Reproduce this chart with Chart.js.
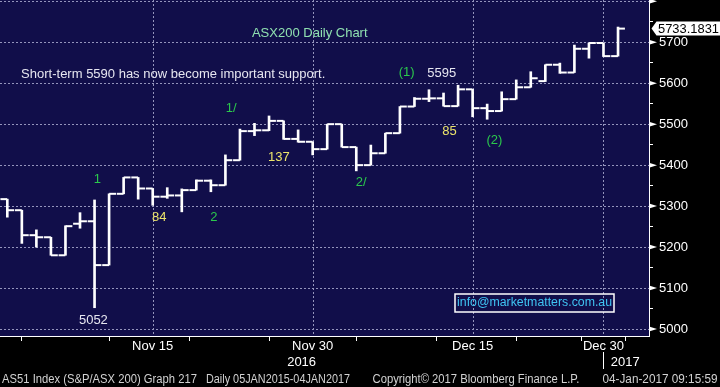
<!DOCTYPE html>
<html>
<head>
<meta charset="utf-8">
<script src="https://cdn.jsdelivr.net/npm/chart.js@4.4.1/dist/chart.umd.min.js"></script>
<style>
  html, body { margin: 0; padding: 0; background: #000; }
  #wrap { width: 720px; height: 387px; }
</style>
</head>
<body>
<div id="wrap"><canvas id="chart" width="720" height="387"></canvas></div>
<script>
// ASX200 daily bars, 1 Nov 2016 .. 3 Jan 2017 (trading days only)
const days = ['Nov 1', 'Nov 2', 'Nov 3', 'Nov 4', 'Nov 7', 'Nov 8', 'Nov 9', 'Nov 10', 'Nov 11',
  'Nov 14', 'Nov 15', 'Nov 16', 'Nov 17', 'Nov 18', 'Nov 21', 'Nov 22', 'Nov 23', 'Nov 24', 'Nov 25',
  'Nov 28', 'Nov 29', 'Nov 30', 'Dec 1', 'Dec 2', 'Dec 5', 'Dec 6', 'Dec 7', 'Dec 8', 'Dec 9',
  'Dec 12', 'Dec 13', 'Dec 14', 'Dec 15', 'Dec 16', 'Dec 19', 'Dec 20', 'Dec 21', 'Dec 22', 'Dec 23',
  'Dec 28', 'Dec 29', 'Dec 30', 'Jan 3'];

const opens = [5317, 5290, 5229, 5224, 5180, 5257, 5263, 5156, 5330, 5370, 5343, 5323, 5326, 5339, 5362,
  5351, 5412, 5483, 5485, 5508, 5464, 5457, 5439, 5500, 5444, 5400, 5429, 5478, 5543, 5562, 5563, 5544,
  5585, 5539, 5532, 5561, 5590, 5605, 5645, 5626, 5684, 5698, 5666];
const highs = [5317, 5290, 5242, 5224, 5252, 5284, 5315, 5330, 5370, 5370, 5343, 5345, 5342, 5364, 5364,
  5425, 5488, 5502, 5520, 5508, 5486, 5457, 5500, 5500, 5444, 5449, 5478, 5543, 5565, 5584, 5576, 5595,
  5585, 5549, 5579, 5608, 5628, 5645, 5649, 5693, 5698, 5698, 5737];
const lows = [5273, 5209, 5200, 5180, 5180, 5246, 5052, 5156, 5330, 5317, 5302, 5319, 5286, 5339, 5335,
  5351, 5412, 5472, 5484, 5463, 5456, 5425, 5439, 5444, 5386, 5400, 5429, 5478, 5543, 5555, 5544, 5544,
  5518, 5512, 5532, 5561, 5590, 5604, 5624, 5626, 5661, 5665, 5666];
const closes = [5290, 5229, 5224, 5180, 5251, 5263, 5156, 5330, 5370, 5343, 5323, 5326, 5339, 5362, 5351,
  5412, 5483, 5485, 5508, 5464, 5457, 5439, 5500, 5444, 5400, 5429, 5478, 5543, 5562, 5563, 5544, 5585,
  5539, 5532, 5561, 5590, 5612, 5645, 5626, 5684, 5698, 5666, 5733.1831];

// axis ticks
const xTickIdx = [4, 10, 15, 21, 27, 32, 38, 41];
const xLabelIdx = [10, 21, 32, 41];
const yTicks = [5000, 5050, 5100, 5150, 5200, 5250, 5300, 5350, 5400, 5450, 5500, 5550, 5600, 5650, 5700, 5750, 5800];
const yGrid = [5000, 5100, 5200, 5300, 5400, 5500, 5600, 5700, 5800];
const yLabels = [5000, 5100, 5200, 5300, 5400, 5500, 5600, 5700];

// chart notes: [text, bar index, value, colour, align]
const GREEN = '#2bc94c', YELLOW = '#ece46a', WHITE = '#e6e6f0';
const notes = [
  ['ASX200 Daily Chart', 20.8, 5722, '#8fe0b0', 'center'],
  ['Short-term 5590 has now become important support.', 0.95, 5622, WHITE, 'left'],
  ['1/', 15.4, 5539, GREEN, 'center'],
  ['1', 6.2, 5366, GREEN, 'center'],
  ['84', 10.45, 5273, YELLOW, 'center'],
  ['2', 14.2, 5273, GREEN, 'center'],
  ['5052', 5.92, 5022, WHITE, 'center'],
  ['137', 18.67, 5418, YELLOW, 'center'],
  ['2/', 24.34, 5357, GREEN, 'center'],
  ['(1)', 27.46, 5626, GREEN, 'center'],
  ['5595', 29.88, 5623, WHITE, 'center'],
  ['85', 30.41, 5483, YELLOW, 'center'],
  ['(2)', 33.5, 5461, GREEN, 'center']
];

const FONT = '"Liberation Sans", Arial, sans-serif';
const NAVY = '#110e4a';
const GRID = '#9494bc';

const bbgDecor = {
  id: 'bbgDecor',
  beforeDraw(chart) {
    const { ctx, chartArea: a } = chart;
    ctx.save();
    ctx.fillStyle = '#000';
    ctx.fillRect(0, 0, chart.width, chart.height);
    ctx.fillStyle = NAVY;
    ctx.fillRect(a.left, a.top, a.right - a.left, a.bottom - a.top);
    ctx.restore();
  },
  beforeDatasetsDraw(chart) {
    // dashed grid at the labelled dates and round prices
    const { ctx, chartArea: a, scales: { x, y } } = chart;
    ctx.save();
    ctx.strokeStyle = GRID;
    ctx.lineWidth = 1;
    ctx.setLineDash([2, 2]);
    ctx.beginPath();
    xLabelIdx.forEach(i => {
      const px = Math.round(x.getPixelForValue(i)) + 0.5;
      ctx.moveTo(px, a.top);
      ctx.lineTo(px, a.bottom);
    });
    yGrid.forEach(v => {
      const py = Math.round(y.getPixelForValue(v)) + 0.5;
      ctx.moveTo(a.left, py);
      ctx.lineTo(a.right, py);
    });
    ctx.stroke();
    ctx.restore();
  },
  afterDatasetsDraw(chart) {
    const { ctx, scales: { x, y } } = chart;
    ctx.save();
    ctx.textBaseline = 'middle';
    ctx.font = '13px ' + FONT;
    notes.forEach(n => {
      ctx.fillStyle = n[3];
      ctx.textAlign = n[4];
      ctx.fillText(n[0], x.getPixelForValue(n[1]), y.getPixelForValue(n[2]));
    });

    // contact box
    const bx = x.getPixelForValue(36.26), by = y.getPixelForValue(5064.7);
    ctx.strokeStyle = '#fff';
    ctx.lineWidth = 1.5;
    ctx.strokeRect(Math.round(bx - 79.5), Math.round(by - 9), 159, 18);
    ctx.fillStyle = '#3fc4f2';
    ctx.textAlign = 'center';
    ctx.font = '12.5px ' + FONT;
    ctx.fillText('info@marketmatters.com.au', bx, by + 0.5, 155);
    ctx.restore();
  },
  afterDraw(chart) {
    const { ctx, chartArea: a, scales: { x, y } } = chart;
    ctx.save();

    // pointers on the price axis
    ctx.fillStyle = '#fff';
    yGrid.forEach(v => {
      const py = y.getPixelForValue(v);
      ctx.beginPath();
      ctx.moveTo(a.right, py - 2.5);
      ctx.lineTo(a.right + 8, py);
      ctx.lineTo(a.right, py + 2.5);
      ctx.closePath();
      ctx.fill();
    });

    // last price tag
    const last = closes[closes.length - 1];
    const ty = y.getPixelForValue(last);
    ctx.beginPath();
    ctx.moveTo(a.right + 2.5, ty);
    ctx.lineTo(a.right + 7.5, ty - 7);
    ctx.lineTo(chart.width, ty - 7);
    ctx.lineTo(chart.width, ty + 7);
    ctx.lineTo(a.right + 7.5, ty + 7);
    ctx.closePath();
    ctx.fill();
    ctx.fillStyle = '#000';
    ctx.font = '13px ' + FONT;
    ctx.textAlign = 'left';
    ctx.textBaseline = 'middle';
    ctx.fillText(last.toFixed(4), a.right + 9, ty + 0.5, 61);

    // years under the date axis
    ctx.fillStyle = '#fff';
    ctx.textAlign = 'center';
    ctx.fillText('2016', x.getPixelForValue(20.24), 362);
    ctx.fillText('2017', x.getPixelForValue(42.5), 362);
    const sx = Math.round(x.getPixelForValue(41)) + 0.5;
    ctx.strokeStyle = '#fff';
    ctx.lineWidth = 1;
    ctx.beginPath();
    ctx.moveTo(sx, 352);
    ctx.lineTo(sx, 369);
    ctx.stroke();

    // footer
    ctx.fillStyle = '#d2d2d2';
    ctx.textAlign = 'left';
    ctx.font = '12px ' + FONT;
    ctx.fillText('AS51 Index (S&P/ASX 200) Graph 217', 2, 379.5, 195);
    ctx.fillText('Daily 05JAN2015-04JAN2017', 206, 379.5, 144);
    ctx.fillText('Copyright\u00A9 2017 Bloomberg Finance L.P.', 372.5, 379.5, 207);
    ctx.fillText('04-Jan-2017 09:15:59', 602.5, 379.5, 115);
    ctx.restore();
  }
};

new Chart(document.getElementById('chart'), {
  type: 'bar',
  data: {
    datasets: [
      {
        type: 'bar',
        data: days.map((d, i) => ({ x: i, y: [lows[i], highs[i]] })),
        backgroundColor: '#fff',
        barThickness: 2,
        grouped: false
      },
      {
        type: 'scatter',
        data: opens.map((v, i) => ({ x: i - 0.24, y: v })),
        pointStyle: 'line',
        pointRadius: 3.4,
        pointBorderWidth: 2,
        pointBorderColor: '#fff'
      },
      {
        type: 'scatter',
        data: closes.map((v, i) => ({ x: i + 0.24, y: v })),
        pointStyle: 'line',
        pointRadius: 3.4,
        pointBorderWidth: 2,
        pointBorderColor: '#fff'
      }
    ]
  },
  options: {
    responsive: false,
    animation: false,
    events: [],
    layout: { padding: 0, autoPadding: false },
    plugins: { legend: { display: false }, tooltip: { enabled: false } },
    scales: {
      x: {
        type: 'linear',
        min: -0.502,
        max: 44.13,
        bounds: 'data',
        offset: false,
        afterBuildTicks: s => { s.ticks = xTickIdx.map(v => ({ value: v })); },
        afterFit: s => { s.height = 51; s.paddingLeft = 0; s.paddingRight = 0; },
        ticks: {
          autoSkip: false,
          maxRotation: 0,
          padding: -2,
          color: '#fff',
          font: { family: FONT, size: 13 },
          callback: v => xLabelIdx.includes(v) ? days[v] : ''
        },
        grid: { color: 'transparent', tickColor: '#fff', tickLength: 5, lineWidth: 1 },
        border: { color: '#fff', width: 1 }
      },
      y: {
        type: 'linear',
        position: 'right',
        min: 4983,
        max: 5803,
        bounds: 'data',
        afterBuildTicks: s => { s.ticks = yTicks.map(v => ({ value: v })); },
        afterFit: s => { s.width = 71; s.paddingTop = 0; s.paddingBottom = 0; },
        ticks: {
          autoSkip: false,
          padding: 6,
          color: '#fff',
          font: { family: FONT, size: 13 },
          callback: v => yLabels.includes(v) ? String(v) : ''
        },
        grid: { color: 'transparent', tickColor: '#fff', tickLength: 4, lineWidth: 1 },
        border: { color: '#fff', width: 1 }
      }
    }
  },
  plugins: [bbgDecor]
});
</script>
</body>
</html>
